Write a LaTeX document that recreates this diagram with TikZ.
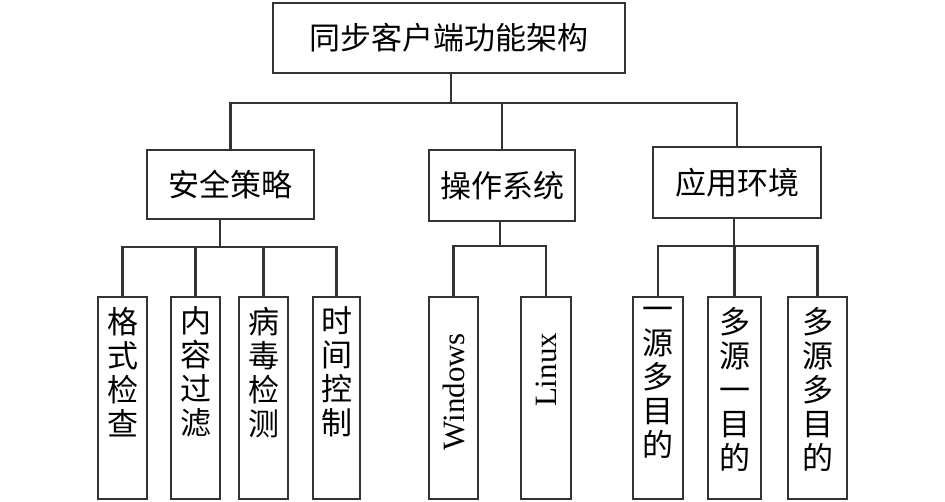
\documentclass[tikz,border=0pt]{standalone}
\usepackage{fontspec}
\setmainfont{Liberation Serif}
\newfontfamily\cjk{Noto Sans CJK SC}
\tikzset{
  box/.style={draw=black!80,line width=2.5pt,inner sep=0pt,font=\cjk\fontsize{31}{34}\selectfont},
  leaf/.style={box,minimum width=49pt,minimum height=202pt},
  vtxt/.style={anchor=north,align=center,inner sep=0pt,yshift=-11pt,font=\cjk\fontsize{31}{34}\selectfont},
  rtxt/.style={yshift=-37pt,rotate=90,anchor=east,inner sep=0pt,font=\fontsize{31}{34}\selectfont},
  link/.style={draw=black!80,line width=2.5pt}
}
\begin{document}
\begin{tikzpicture}[x=1pt,y=-1pt]
\useasboundingbox (0,0) rectangle (945,502);
\node[box,minimum width=352pt,minimum height=70pt] (root) at (449,38) {同步客户端功能架构};
\node[box,minimum width=167pt,minimum height=69pt] (sec) at (230.5,184.5) {安全策略};
\node[box,minimum width=146pt,minimum height=71pt] (os) at (502,185.5) {操作系统};
\node[box,minimum width=168pt,minimum height=71pt] (env) at (737,182.5) {应用环境};
% leaves
\node[leaf,label={[vtxt]north:格\\式\\检\\查}] (sec1) at (122.5,398) {};
\node[leaf,label={[vtxt]north:内\\容\\过\\滤}] (sec2) at (195.5,398) {};
\node[leaf,label={[vtxt]north:病\\毒\\检\\测}] (sec3) at (263.5,398) {};
\node[leaf,minimum width=47pt,label={[vtxt]north:时\\间\\控\\制}] (sec4) at (336.5,398) {};
\node[leaf,label={[rtxt]north:Windows}] (os1) at (453.5,398) {};
\node[leaf,minimum width=50pt,label={[rtxt]north:Linux}] (os2) at (546,398) {};
\node[leaf,minimum width=50pt,label={[vtxt]north:一\\源\\多\\目\\的}] (env1) at (658,398) {};
\node[leaf,minimum width=53pt,label={[vtxt]north:多\\源\\一\\目\\的}] (env2) at (734.5,398) {};
\node[leaf,minimum width=59pt,label={[vtxt]north:多\\源\\多\\目\\的}] (env3) at (817.5,398) {};
% connectors
\coordinate (b0) at (451,103);
\draw[link] (root.south -| b0) -- (b0);
\draw[link] (sec.north) |- (b0) -| (env.north);
\draw[link] (os.north) -- (os.north |- b0);
\coordinate (b1) at (220,247);
\draw[link] (sec.south -| b1) -- (b1);
\draw[link] (sec1.north) |- (b1) -| (sec4.north);
\draw[link] (sec2.north) -- (sec2.north |- b1);
\draw[link] (sec3.north) -- (sec3.north |- b1);
\coordinate (b2) at (500,246);
\draw[link] (os.south -| b2) -- (b2);
\draw[link] (os1.north) |- (b2) -| (os2.north);
\coordinate (b3) at (734,246);
\draw[link] (env.south -| b3) -- (b3);
\draw[link] (env1.north) |- (b3) -| (env3.north);
\draw[link] (env2.north) -- (env2.north |- b3);
\end{tikzpicture}
\end{document}
